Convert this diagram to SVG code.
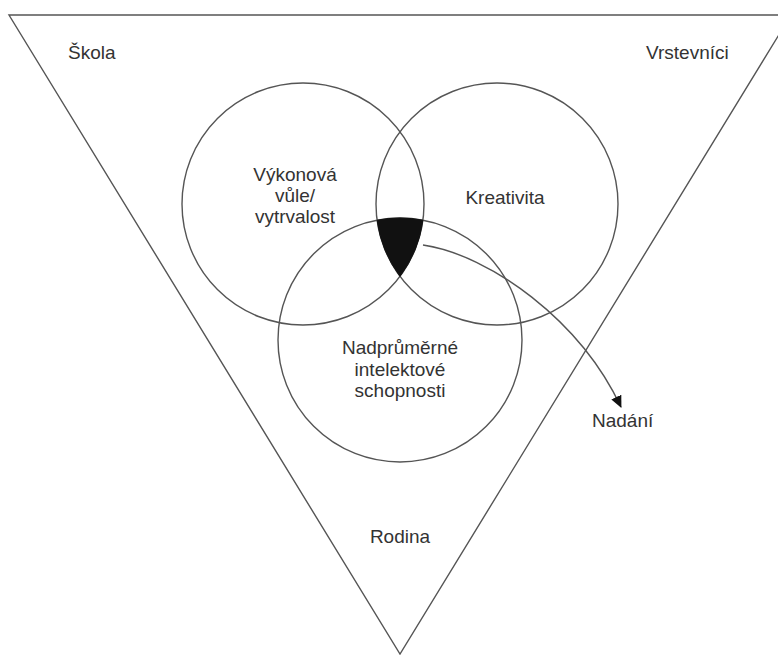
<svg xmlns="http://www.w3.org/2000/svg" width="778" height="655" viewBox="0 0 778 655">
<style>
.ln{fill:none;stroke:#555;stroke-width:1.4}
.t{font-family:"Liberation Sans",Arial,sans-serif;font-size:19px;fill:#333}
.c{text-anchor:middle}
</style>
<defs>
<marker id="ah" viewBox="0 0 12 12" refX="11" refY="6" markerWidth="12" markerHeight="12" markerUnits="userSpaceOnUse" orient="auto">
<path d="M0,0.5 L12,6 L0,11.5 Z" fill="#111"/>
</marker>
</defs>
<rect width="778" height="655" fill="#fff"/>
<g id="triangle">
<polygon class="ln" points="9,15 791,15 400,654"/>
</g>
<g id="skola"><text class="t" x="68" y="59">Škola</text></g>
<g id="vrstevnici"><text class="t" x="646" y="59">Vrstevníci</text></g>
<g id="rodina"><text class="t c" x="400" y="543">Rodina</text></g>
<g id="vykonova">
<circle class="ln" cx="303" cy="204" r="121"/>
<text class="t c" x="295" y="181">Výkonová</text>
<text class="t c" x="295" y="202">vůle/</text>
<text class="t c" x="295" y="223">vytrvalost</text>
</g>
<g id="kreativita">
<circle class="ln" cx="497" cy="204" r="121"/>
<text class="t c" x="505" y="204">Kreativita</text>
</g>
<g id="intelekt">
<circle class="ln" cx="400" cy="340" r="122"/>
<text class="t c" x="400" y="354">Nadprůměrné</text>
<text class="t c" x="400" y="376">intelektové</text>
<text class="t c" x="400" y="397">schopnosti</text>
</g>
<g id="prunik">
<path d="M377.1,220.2 A122,122 0 0 1 422.9,220.2 A121,121 0 0 1 400,276.4 A121,121 0 0 1 377.1,220.2 Z" fill="#111" stroke="#111" stroke-width="1"/>
</g>
<g id="nadani"><text class="t" x="592" y="427">Nadání</text></g>
<g id="connectors">
<path class="ln" d="M423,245 C490,255 580,320 621,407" marker-end="url(#ah)"/>
</g>
</svg>
